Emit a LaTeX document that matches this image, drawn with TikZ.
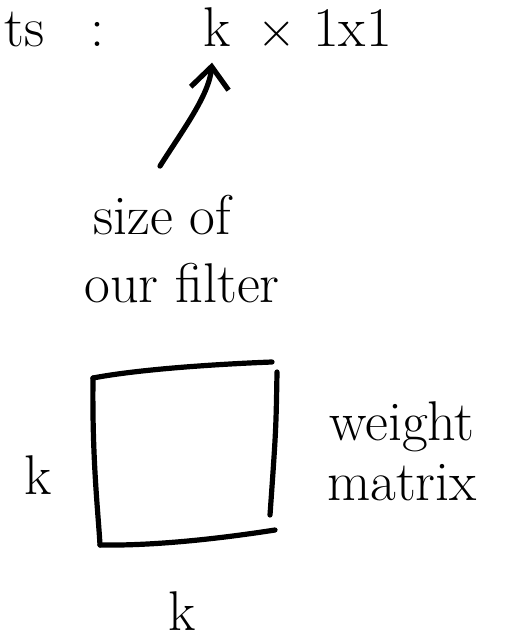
\documentclass[tikz,border=0pt]{standalone}
\usetikzlibrary{arrows.meta}
\begin{document}
\begin{tikzpicture}[x=0.5pt,y=-0.5pt,line width=2.6pt,line cap=round,line join=round,
  hand/.style={font=\fontsize{28}{30}\selectfont,inner sep=0pt}]
\useasboundingbox[fill=white] (0,0) rectangle (506,640);
% top line
\node[hand,anchor=base west] (lead) at (2,47) {ts};
\node[hand,anchor=base] (colon) at (97,47) {:};
\node[hand,anchor=base] (kdim) at (217,47) {k};
\node[hand,anchor=base west] (rest) at (255,47) {$\times$ 1x1};
\node[hand,anchor=base] (sizeof) at (162,235) {size of};
\node[hand,anchor=base] (filter) at (182,302) {our filter};
\draw[-{Straight Barb[length=11pt,width=19pt]}] ([shift={(-2,-27)}]sizeof.north) .. controls +(22,-35) and +(-3,33) .. ([shift={(-5,13)}]kdim.south);
% the weight matrix
\draw (93,378) .. controls (140,369) and (220,364) .. (272,362);
\draw (277,372) .. controls (276,430) .. (270,515);
\draw (100,545) .. controls (160,546) and (230,537) .. (275,530);
\draw (93,378) .. controls (92,460) and (98,510) .. (100,545);
\node[hand,anchor=base] (kleft) at (38,494) {k};
\node[hand,anchor=base] (kbottom) at (182,630) {k};
\node[hand,anchor=base] (weight) at (402,440) {weight};
\node[hand,anchor=base] (matrix) at (402,500) {matrix};
\end{tikzpicture}
\end{document}
